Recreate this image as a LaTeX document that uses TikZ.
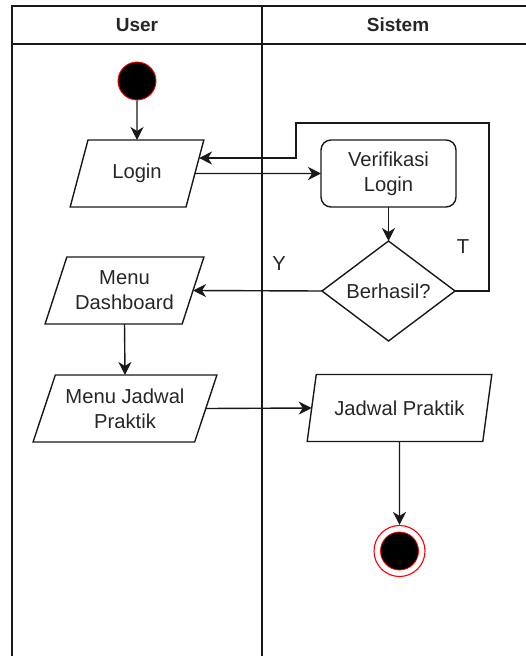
\documentclass[tikz,border=0pt]{standalone}
\usepackage{fontspec}
\setmainfont{Liberation Sans}
\usetikzlibrary{shapes.geometric,arrows.meta,calc}
\begin{document}
\begin{tikzpicture}[x=1pt,y=-1pt,
  txt/.style={font=\fontsize{20.2}{25}\selectfont, text=black!85},
  hdr/.style={font=\bfseries\fontsize{19}{23}\selectfont, text=black!85},
  ln/.style={line width=1.4pt, draw=black!90},
  para/.style={trapezium, trapezium left angle=64.5, trapezium right angle=115.5,
    trapezium stretches=true, ln, inner sep=0pt, outer sep=0pt,
    minimum height=67pt, align=center, txt},
  proc/.style={rectangle, rounded corners=10pt, ln, inner sep=0pt, outer sep=0pt,
    minimum width=135pt, minimum height=67pt, align=center, txt},
  dec/.style={diamond, ln, inner sep=0pt, outer sep=0pt, aspect=1.33,
    minimum width=133pt, minimum height=100pt, align=center, txt},
  arr/.style={ln, -{Stealth[length=13pt,width=13pt,inset=4pt]}},
  lbl/.style={txt}
]
\useasboundingbox (0,0) rectangle (525,656);

% swimlanes
\draw[ln] (12,656) -- (12,6) -- (526,6);
\draw[ln] (12,44) -- (526,44);
\draw[ln] (262,6) -- (262,656);
\node[hdr] (huser) at (137,25) {User};
\node[hdr] (hsis) at (398,25) {Sistem};

% nodes
\node[circle, fill=black, draw=red, line width=0.9pt, minimum size=38pt, inner sep=0pt] (start) at (137,81) {};
\node[para, minimum width=134pt] (login) at (137,173.5) {Login};
\node[proc] (verif) at (388.5,173.5) {Verifikasi\\Login};
\node[dec] (dec) at (388.5,291) {Berhasil?};
\node[para, minimum width=159pt] (dash) at (124.5,290.5) {Menu\\Dashboard};
\node[para, minimum width=184pt] (mjp) at (125,408.5) {Menu Jadwal\\Praktik};
\node[para, minimum width=185pt] (jp) at (399.5,408) {Jadwal Praktik};
\node[circle, draw=red, line width=1.1pt, minimum size=51pt, inner sep=0pt] (endo) at (399.5,551) {};
\node[circle, fill=black, draw=red, line width=0.8pt, minimum size=38pt, inner sep=0pt] (endi) at (399.5,551) {};

\node[lbl] (ylbl) at (279,264) {Y};
\node[lbl] (tlbl) at (463,247) {T};

% connectors
\draw[arr] (start) -- (login.north);
\draw[arr] (login.east) -- (verif.west);
\draw[arr] (verif.south) -- (dec.north);
\coordinate (c1) at (489,291);
\coordinate (c2) at (489,123);
\coordinate (c3) at (296,123);
\coordinate (c4) at (296,158);
\coordinate (lin) at ($(login.bottom right corner)!0.731!(login.top right corner)$);
\draw[arr] (dec.east) -- (c1) -- (c2) -- (c3) -- (c4) -- (c4 -| lin);
\draw[arr] (dec.west) -- (dash.east);
\draw[arr] (dash.south) -- (mjp.north);
\draw[arr] (mjp.east) -- (jp.west);
\draw[arr] (jp.south) -- (endo.north);
\end{tikzpicture}
\end{document}
